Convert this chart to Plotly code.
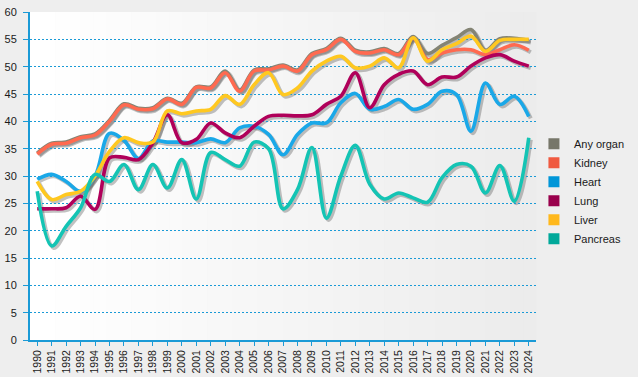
import plotly.graph_objects as go

years = list(range(1990, 2025))

any_organ = [34.2, 36, 36.2, 37.2, 37.7, 40.2, 43.2, 42.4, 42.5, 44.2, 43.3, 46.3, 46.3, 49.2, 45.7,
             49.4, 49.6, 50.3, 49.4, 52.4, 53.3, 55.2, 53, 52.7, 53.3, 52.4, 55.5, 52.4, 53.9, 55.3,
             56.8, 53, 55.1, 55.2, 54.8]
kidney = [34, 35.8, 36, 37, 37.5, 40, 43, 42.2, 42.3, 44.1, 43.1, 46.2, 46.1, 48.9, 45.5,
          49.2, 49.4, 50.1, 49.2, 52.2, 53.1, 55, 52.8, 52.5, 53.1, 52.2, 55.2, 51.3, 52.5, 53.1,
          53.1, 52.2, 53.1, 54, 53]
heart = [29.4, 30.3, 29, 27.2, 30, 37.8, 36.5, 33.2, 36.4, 36.2, 36.2, 36.1, 36.8, 36.1, 38.8,
         39.1, 37.6, 33.9, 37.6, 39.7, 39.7, 43.4, 45.1, 42.2, 42.7, 44, 42.2, 43.1, 45.5, 44.9,
         38.2, 47, 43.1, 44.6, 40.9]
lung = [24, 24, 24.2, 26.3, 23.9, 33.3, 33.4, 33, 36.1, 41.2, 36.1, 36.7, 39.7, 37.9, 37,
        39.1, 40.9, 41.1, 41, 41.2, 43.1, 44.6, 48.9, 42.5, 46.7, 48.6, 49.2, 46.7, 48.1, 48.1,
        50.1, 51.6, 52.2, 51, 50.1]
liver = [29, 25.7, 26.6, 27.2, 30, 34.5, 37, 36.1, 36.2, 41.9, 41.4, 41.9, 42.2, 44.7, 43.1,
         46.7, 48.9, 44.9, 46.1, 49.2, 51, 51.9, 49.8, 50.1, 51.6, 49.8, 55.3, 51, 53.1, 54.2,
         55.6, 52.8, 54.8, 55, 55]
pancreas = [27.2, 17.2, 20.8, 24.2, 30.3, 29, 32.1, 27.5, 32.1, 27.8, 33, 25.8, 34.3, 33, 31.8,
            36.2, 35, 24, 27.5, 35.2, 22.3, 30, 35.6, 28.5, 25.8, 26.9, 26, 25.2, 29.7, 32.1,
            31.8, 26.9, 31.9, 25.4, 37]

series = [
    ("Any organ", any_organ, "#848474", "#77776a"),
    ("Kidney", kidney, "#ff6a50", "#f05a40"),
    ("Heart", heart, "#1aa8e8", "#0096d8"),
    ("Lung", lung, "#b0005a", "#99004c"),
    ("Liver", liver, "#ffc820", "#ffb81c"),
    ("Pancreas", pancreas, "#14c4b4", "#00a89a"),
]

W, H = 638, 377
L, R, T, B = 30, 100, 12, 35
pw, ph = W - L - R, H - T - B  # 508 x 330
off = 2

fig = go.Figure()

# shadows (subplot xy, shifted right/down)
for name, vals, lc, _ in series:
    fig.add_trace(go.Scatter(x=years, y=vals, mode="lines", xaxis="x", yaxis="y",
                             line=dict(color="rgba(70,70,70,0.33)", width=4, shape="spline", smoothing=1.0),
                             showlegend=False, hoverinfo="skip"))
# main lines
for name, vals, lc, _ in series:
    fig.add_trace(go.Scatter(x=years, y=vals, mode="lines", xaxis="x2", yaxis="y2", name=name,
                             line=dict(color=lc, width=3.6, shape="spline", smoothing=1.0),
                             showlegend=False))
# legend squares
for name, vals, lc, legc in series:
    fig.add_trace(go.Scatter(x=[None], y=[None], mode="markers", xaxis="x2", yaxis="y2", name=name,
                             marker=dict(symbol="square", size=11, color=legc), showlegend=True))

# plot-area horizontal gradient
n = 40
x0d, x1d = 0, (pw - off) / pw
y0d, y1d = off / ph, 1
shapes = []
for i in range(n):
    t = i / (n - 1)
    c = int(round(255 - t * (255 - 236)))
    shapes.append(dict(type="rect", xref="paper", yref="paper",
                       x0=x0d + (x1d - x0d) * i / n, x1=x0d + (x1d - x0d) * (i + 1) / n + 0.001,
                       y0=y0d, y1=y1d, fillcolor=f"rgb({c},{c},{c})", line=dict(width=0), layer="below"))

blue = "#1a9ad6"
font = dict(family="Liberation Sans, Arial, sans-serif", size=10, color="#1a1a1a")

fig.update_layout(
    width=W, height=H,
    margin=dict(l=L, r=R, t=T, b=B, autoexpand=False),
    paper_bgcolor="#eeeeee", plot_bgcolor="rgba(0,0,0,0)",
    font=font,
    shapes=shapes,
    xaxis=dict(domain=[off / pw, 1], range=[1989.5, 2024.5], visible=False, anchor="y", fixedrange=True),
    yaxis=dict(domain=[0, (ph - off) / ph], range=[0, 60], visible=False, anchor="x", fixedrange=True),
    xaxis2=dict(domain=[0, (pw - off) / pw], range=[1989.5, 2024.5], anchor="y2",
                tickvals=years, ticktext=[str(y) for y in years], tickangle=-90,
                ticks="outside", ticklen=4, tickcolor=blue, tickwidth=1,
                showline=True, linecolor=blue, linewidth=2, showgrid=False, zeroline=False,
                tickfont=dict(size=10.5), automargin=False, fixedrange=True),
    yaxis2=dict(domain=[off / ph, 1], range=[0, 60], anchor="x2", dtick=5,
                ticks="outside", ticklen=5, tickcolor=blue, tickwidth=1,
                showline=True, linecolor=blue, linewidth=2,
                showgrid=True, gridcolor=blue, gridwidth=1, griddash="2px,2px",
                zeroline=False, tickfont=dict(size=11), automargin=False,
                ticklabelstandoff=4, fixedrange=True),
    legend=dict(x=0.992, xanchor="left", y=0.645, yanchor="top", bgcolor="rgba(0,0,0,0)",
                font=dict(size=11, color="#1a1a1a"), itemwidth=30, tracegroupgap=0),
    showlegend=True,
)

fig.write_html("out.html", config={"displayModeBar": False},
               post_script="document.body.style.margin='0';document.body.style.padding='0';")
